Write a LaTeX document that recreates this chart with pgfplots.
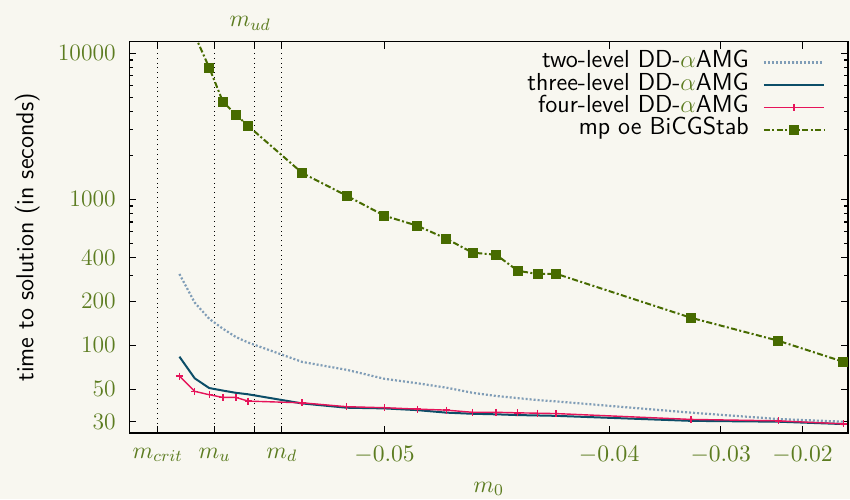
\RequirePackage{fix-cm}
\documentclass[border=0pt]{standalone}
\usepackage{fontspec}
\usepackage{pgfplots}
\pgfplotsset{compat=1.18}
\definecolor{bgc}{RGB}{248,247,240}
\definecolor{tickgreen}{RGB}{92,124,32}
\definecolor{bicg}{RGB}{71,107,0}
\definecolor{twol}{RGB}{128,157,183}
\definecolor{threel}{RGB}{12,78,104}
\definecolor{fourl}{RGB}{230,20,90}
\newcommand{\sfbig}{\sffamily\fontsize{12.3}{14.5}\selectfont}
\begin{document}
\fontsize{11.8}{14}\selectfont
\begin{tikzpicture}
\fill[bgc] (-64.65pt,-33pt) rectangle ++(425pt,249.5pt);
\begin{axis}[
  name=ax,
  at={(0,0)}, anchor=south west,
  scale only axis,
  width=359.35pt, height=195.65pt,
  x coord trafo/.code={\pgfmathparse{ln(#1+0.0572)}},
  x coord inv trafo/.code={\pgfmathparse{exp(#1)-0.0572}},
  xmin=-0.05459, xmax=-0.01231,
  ymode=log, ymin=25.1, ymax=12000,
  xtick={-0.05,-0.04,-0.03,-0.02},
  xticklabels={$-0.05$,$-0.04$,$-0.03$,$-0.02$},
  extra x ticks={-0.05427,-0.05353,-0.05298,-0.05246},
  extra x tick labels={$m_{crit}$,$m_u$,{},$m_d$},
  extra x tick style={grid=major, major grid style={black, dotted, line width=0.5pt}},
  minor x tick num=0,
  ytick={100,1000,10000},
  yticklabels={100,1000,10000},
  extra y ticks={30,50,200,400},
  extra y tick labels={30,50,200,400},
  tick label style={text=tickgreen},
  xticklabel style={anchor=center, yshift=-11pt},
  yticklabel style={anchor=east, inner sep=0pt, xshift=-6.6pt},
  major tick length=3.5pt, minor tick length=2pt,
  axis line style={line width=0.6pt},
  every tick/.style={black, line width=0.6pt},
  xlabel={$m_0$},
  xlabel style={text=tickgreen, at={(axis description cs:0.5,0)}, anchor=base, yshift=-29.6pt},
  ylabel={time to solution (in seconds)},
  ylabel style={font=\sfbig, at={(axis description cs:-0.1336,0.5)}, anchor=base},
  legend style={draw=none, fill=none, at={(1,1)}, anchor=north east, xshift=-11.5pt, yshift=-4.8pt,
    inner sep=0pt, outer sep=0pt, row sep=0pt, column sep=7pt, font=\sfbig,
    nodes={inner sep=0pt, text height=8.2pt, text depth=3pt}},
  legend cell align=right,
  legend plot pos=right,
  legend image code/.code={\draw[mark repeat=2,mark phase=2,#1] plot coordinates {(0pt,0pt) (15pt,0pt) (30pt,0pt)};},
]
\addplot[color=twol, line width=1.1pt, dash pattern=on 1pt off 1pt] coordinates {
(-0.054,308) (-0.0538,196) (-0.0536,152) (-0.0534,130) (-0.0532,114) (-0.053,104.5)
(-0.052,77) (-0.051,68) (-0.050,59) (-0.049,55) (-0.048,51.3) (-0.047,47.3) (-0.046,45.0)
(-0.045,43.5) (-0.044,42.2) (-0.043,41.3) (-0.033,34.6) (-0.023,31.3) (-0.013,30.0)};
\addlegendentry{two-level DD-{\color{tickgreen}$\alpha$}AMG}
\addplot[color=threel, line width=1pt] coordinates {
(-0.054,83.6) (-0.0538,59.4) (-0.0536,51.0) (-0.0534,49.0) (-0.0532,47.3) (-0.053,46.2)
(-0.052,40.0) (-0.051,37.4) (-0.050,37.0) (-0.049,36.0) (-0.048,34.6) (-0.047,34.0) (-0.046,33.7)
(-0.045,33.3) (-0.044,33.1) (-0.043,32.9) (-0.033,30.4) (-0.023,30.0) (-0.013,28.9)};
\addlegendentry{three-level DD-{\color{tickgreen}$\alpha$}AMG}
\addplot[color=fourl, line width=0.7pt, mark=+, mark size=1.75pt, mark options={solid, line width=0.7pt}] coordinates {
(-0.054,61.6) (-0.0538,48.4) (-0.0536,45.9) (-0.0534,44.0) (-0.0532,44.0) (-0.053,41.5)
(-0.052,40.4) (-0.051,38.0) (-0.050,37.4) (-0.049,36.6) (-0.048,36.0) (-0.047,34.8) (-0.046,34.8)
(-0.045,34.5) (-0.044,34.3) (-0.043,34.1) (-0.033,31.1) (-0.023,30.4) (-0.013,29.0)};
\addlegendentry{four-level DD-{\color{tickgreen}$\alpha$}AMG}
\addplot[color=bicg, line width=1pt, dash pattern=on 3pt off 1.2pt on 1pt off 1.2pt, mark=square*, mark size=2pt, mark options={solid}] coordinates {
(-0.0538,13300) (-0.0536,7970) (-0.0534,4660) (-0.0532,3800) (-0.053,3180)
(-0.052,1514) (-0.051,1058) (-0.050,772) (-0.049,659) (-0.048,537) (-0.047,431) (-0.046,417)
(-0.045,324) (-0.044,308) (-0.043,309) (-0.033,154.5) (-0.023,107.5) (-0.013,77.2) (-0.003,60)};
\addlegendentry{mp oe BiCGStab}
\end{axis}
\node[text=tickgreen, anchor=base, xshift=60.4pt, yshift=7.5pt] at (ax.north west) {$m_{ud}$};
\pgfresetboundingbox
\path[use as bounding box] (-64.65pt,-33pt) rectangle ++(425pt,249.5pt);
\end{tikzpicture}
\end{document}
